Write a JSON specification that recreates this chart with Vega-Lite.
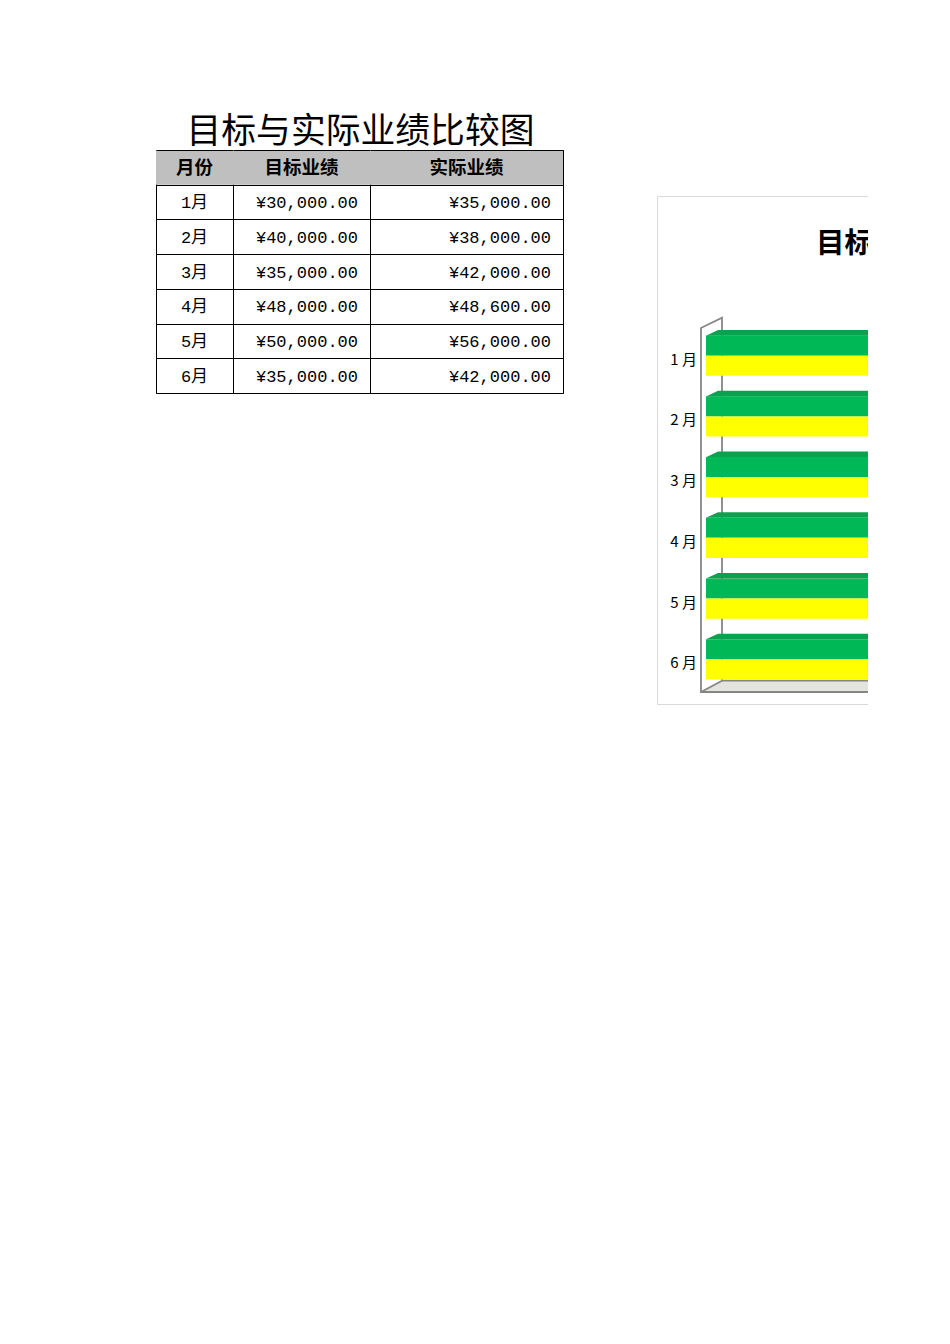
{
  "$schema": "https://vega.github.io/schema/vega-lite/v6.json",
  "padding": {"left": 155, "top": 113, "right": 0, "bottom": 0},
  "background": "white",
  "datasets": {
    "sales": [
      {"month": "1月", "target": 30000, "actual": 35000},
      {"month": "2月", "target": 40000, "actual": 38000},
      {"month": "3月", "target": 35000, "actual": 42000},
      {"month": "4月", "target": 48000, "actual": 48600},
      {"month": "5月", "target": 50000, "actual": 56000},
      {"month": "6月", "target": 35000, "actual": 42000}
    ]
  },
  "spacing": 500,
  "bounds": "flush",
  "hconcat": [
    {
      "spacing": 0,
      "bounds": "flush",
      "vconcat": [
        {
          "width": 407,
          "height": 37,
          "view": {"stroke": null},
          "data": {"values": [{"title": "目标与实际业绩比较图"}]},
          "mark": {"type": "text", "font": "Noto Sans CJK SC", "fontSize": 34.8, "color": "black", "dx": 1, "dy": 1},
          "encoding": {"text": {"field": "title"}}
        },
        {
          "spacing": 0,
          "bounds": "flush",
          "hconcat": [
            {
              "width": 77,
              "height": 243,
              "view": {"stroke": "black"},
              "encoding": {
                "y": {"field": "month", "type": "nominal", "scale": {"domain": ["月份", "1月", "2月", "3月", "4月", "5月", "6月"], "paddingInner": 0, "paddingOuter": 0}, "axis": {"title": null, "labels": false, "ticks": false, "domain": false, "grid": true, "gridColor": "black", "gridOpacity": 1, "tickBand": "extent", "zindex": 1}}
              },
              "layer": [
                {"data": {"values": [{"month": "月份", "head": "月份"}]}, "mark": {"type": "rect", "fill": "#BFBFBF"}},
                {"data": {"values": [{"month": "月份", "head": "月份"}]}, "mark": {"type": "text", "font": "Noto Sans CJK SC", "fontSize": 18.5, "fontWeight": "bold", "color": "black", "dy": 1}, "encoding": {"text": {"field": "head"}}},
                {"data": {"name": "sales"}, "mark": {"type": "text", "font": "Liberation Mono, Noto Sans CJK SC", "fontSize": 17, "color": "black", "dy": 1}, "encoding": {"text": {"field": "month"}}}
              ]
            },
            {
              "width": 137,
              "height": 243,
              "view": {"stroke": "black"},
              "encoding": {
                "y": {"field": "month", "type": "nominal", "scale": {"domain": ["月份", "1月", "2月", "3月", "4月", "5月", "6月"], "paddingInner": 0, "paddingOuter": 0}, "axis": {"title": null, "labels": false, "ticks": false, "domain": false, "grid": true, "gridColor": "black", "gridOpacity": 1, "tickBand": "extent", "zindex": 1}}
              },
              "layer": [
                {"data": {"values": [{"month": "月份", "head": "目标业绩"}]}, "mark": {"type": "rect", "fill": "#BFBFBF"}},
                {"data": {"values": [{"month": "月份", "head": "目标业绩"}]}, "mark": {"type": "text", "font": "Noto Sans CJK SC", "fontSize": 18.5, "fontWeight": "bold", "color": "black", "dy": 1}, "encoding": {"text": {"field": "head"}}},
                {"data": {"name": "sales"}, "transform": [{"calculate": "'¥' + format(datum.target, ',.2f')", "as": "label"}], "mark": {"type": "text", "font": "Liberation Mono", "fontSize": 17, "color": "black", "align": "right", "x": "width", "dx": -12, "dy": 1}, "encoding": {"text": {"field": "label"}}}
              ]
            },
            {
              "width": 193,
              "height": 243,
              "view": {"stroke": "black"},
              "encoding": {
                "y": {"field": "month", "type": "nominal", "scale": {"domain": ["月份", "1月", "2月", "3月", "4月", "5月", "6月"], "paddingInner": 0, "paddingOuter": 0}, "axis": {"title": null, "labels": false, "ticks": false, "domain": false, "grid": true, "gridColor": "black", "gridOpacity": 1, "tickBand": "extent", "zindex": 1}}
              },
              "layer": [
                {"data": {"values": [{"month": "月份", "head": "实际业绩"}]}, "mark": {"type": "rect", "fill": "#BFBFBF"}},
                {"data": {"values": [{"month": "月份", "head": "实际业绩"}]}, "mark": {"type": "text", "font": "Noto Sans CJK SC", "fontSize": 18.5, "fontWeight": "bold", "color": "black", "dy": 1}, "encoding": {"text": {"field": "head"}}},
                {"data": {"name": "sales"}, "transform": [{"calculate": "'¥' + format(datum.actual, ',.2f')", "as": "label"}], "mark": {"type": "text", "font": "Liberation Mono", "fontSize": 17, "color": "black", "align": "right", "x": "width", "dx": -12, "dy": 1}, "encoding": {"text": {"field": "label"}}}
              ]
            }
          ]
        }
      ]
    },
    {
      "width": 212,
      "height": 592,
      "view": {"stroke": null},
      "resolve": {"scale": {"y": "independent"}},
      "layer": [
        {
          "layer": [
            {
              "data": {"values": [{"left": -5893, "right": 64350, "low": -3.43, "high": 136.1}]},
              "mark": {"type": "rect", "fill": "white", "stroke": "#D9D9D9", "strokeWidth": 1, "clip": true},
              "encoding": {
                "x": {"field": "left", "type": "quantitative", "scale": {"domain": [-6075, 19684], "zero": false, "nice": false}, "axis": null},
                "x2": {"field": "right"},
                "y": {"field": "low", "type": "quantitative", "scale": {"domain": [0, 100], "range": [579, 215], "zero": false, "nice": false}, "axis": null},
                "y2": {"field": "high"}
              }
            },
            {
              "data": {"values": [{"title": "目标与实际业绩比较图", "middle": 30680, "level": 123.1}]},
              "mark": {"type": "text", "font": "Noto Sans CJK SC", "fontSize": 28.5, "fontWeight": "bold", "color": "black", "clip": true},
              "encoding": {
                "x": {"field": "middle", "type": "quantitative", "axis": null},
                "y": {"field": "level", "type": "quantitative", "axis": null},
                "text": {"field": "title"}
              }
            },
            {
              "data": {"values": [
                {"depth": -610, "level": 0, "top": 0},
                {"depth": 1944, "level": 3.1, "top": 0},
                {"depth": 64000, "level": 3.1, "top": 0}
              ]},
              "mark": {"type": "area", "fill": "#E3E4DE", "clip": true},
              "encoding": {
                "x": {"field": "depth", "type": "quantitative", "axis": null},
                "y": {"field": "level", "type": "quantitative", "axis": null},
                "y2": {"field": "top"}
              }
            },
            {
              "data": {"values": [
                {"part": "wall", "seq": 1, "depth": 64000, "level": 0},
                {"part": "wall", "seq": 2, "depth": -610, "level": 0},
                {"part": "wall", "seq": 3, "depth": -610, "level": 100},
                {"part": "wall", "seq": 4, "depth": 1944, "level": 102.8},
                {"part": "wall", "seq": 5, "depth": 1944, "level": 3.1},
                {"part": "wall", "seq": 6, "depth": 64000, "level": 3.1},
                {"part": "base", "seq": 1, "depth": -610, "level": 0},
                {"part": "base", "seq": 2, "depth": 1944, "level": 3.1}
              ]},
              "mark": {"type": "line", "color": "#868686", "strokeWidth": 1.8, "clip": true},
              "encoding": {
                "x": {"field": "depth", "type": "quantitative", "axis": null},
                "y": {"field": "level", "type": "quantitative", "axis": null},
                "detail": {"field": "part"},
                "order": {"field": "seq"}
              }
            }
          ]
        },
        {
          "data": {"name": "sales"},
          "transform": [
            {"calculate": "replace(datum.month, '月', ' 月')", "as": "label"},
            {"calculate": "1460", "as": "shoulder"},
            {"calculate": "-1095", "as": "labelAt"},
            {"calculate": "730", "as": "cornerAt"}
          ],
          "encoding": {
            "y": {"field": "month", "type": "nominal", "scale": {"domain": ["1月", "2月", "3月", "4月", "5月", "6月"], "range": [212.3, 576.7], "paddingInner": 0.335, "paddingOuter": 0.1675}, "axis": null}
          },
          "layer": [
            {
              "mark": {"type": "text", "font": "Noto Sans CJK SC", "fontSize": 15, "align": "right", "dy": 4, "color": "black"},
              "encoding": {
                "x": {"field": "labelAt", "type": "quantitative", "axis": null},
                "text": {"field": "label"}
              }
            },
            {
              "mark": {"type": "bar", "height": 5.7, "yOffset": -22.85, "fill": "#0BA14F", "clip": true},
              "encoding": {
                "x": {"field": "target", "type": "quantitative", "axis": null},
                "x2": {"field": "shoulder"}
              }
            },
            {
              "mark": {"type": "point", "shape": "M-1,0.475L1,-0.475L1,0.475Z", "size": 144, "filled": true, "fill": "#0BA14F", "opacity": 1, "yOffset": -22.85},
              "encoding": {
                "x": {"field": "cornerAt", "type": "quantitative", "axis": null}
              }
            },
            {
              "mark": {"type": "bar", "height": 20.2, "yOffset": -10.1, "fill": "#00B856", "clip": true},
              "encoding": {
                "x": {"field": "target", "type": "quantitative", "axis": null}
              }
            },
            {
              "mark": {"type": "bar", "height": 20.2, "yOffset": 10.1, "fill": "#FFFF00", "clip": true},
              "encoding": {
                "x": {"field": "actual", "type": "quantitative", "axis": null}
              }
            }
          ]
        }
      ]
    }
  ]
}
